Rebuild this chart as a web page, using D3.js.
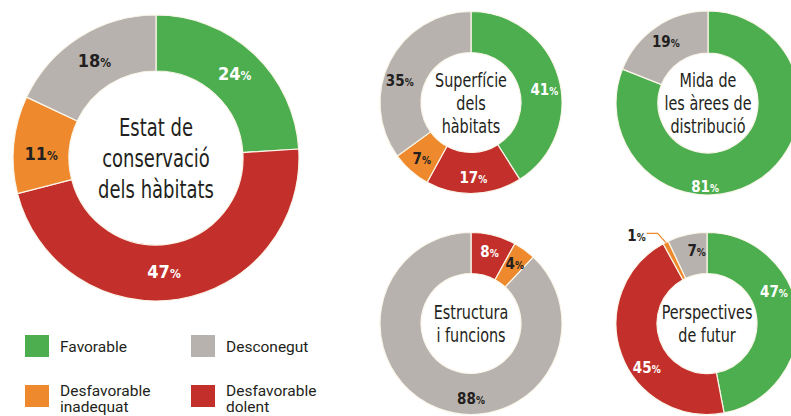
<!DOCTYPE html>
<html><head><meta charset="utf-8">
<script src="https://cdn.jsdelivr.net/npm/d3@7"></script>
<style>
html,body{margin:0;padding:0;background:#fff;}
svg{display:block;}
.ctr{font-family:"DejaVu Sans Condensed","Liberation Sans Narrow",sans-serif;fill:#231f20;}
.pct{font-family:"DejaVu Sans Condensed","Liberation Sans Narrow",sans-serif;font-weight:bold;}
.leg{font-family:"Roboto","DejaVu Sans",sans-serif;fill:#231f20;}
</style></head>
<body>
<script>
// ---- data ----
const categories = ["Favorable", "Desfavorable inadequat", "Desfavorable dolent", "Desconegut"];
const estatConservacio = [24, 11, 47, 18];
const superficieHabitats = [41, 7, 17, 35];
const midaAreesDistribucio = [81, 0, 0, 19];
const estructuraFuncions = [0, 4, 8, 88];
const perspectivesFutur = [47, 1, 45, 7];
const titles = {
  estat: ["Estat de", "conservació", "dels hàbitats"],
  superficie: ["Superfície", "dels", "hàbitats"],
  mida: ["Mida de", "les àrees de", "distribució"],
  estructura: ["Estructura", "i funcions"],
  perspectives: ["Perspectives", "de futur"]
};

// ---- styles / layout ----
const colors = ["#4dae50", "#ee8a2d", "#c3302b", "#b8b2ae"];
const ringOrder = [0, 2, 1, 3]; // clockwise from top

const W = 791, H = 416;
const svg = d3.select("body").append("svg").attr("width", W).attr("height", H);

const charts = [
  {key: "estat", values: estatConservacio, cx: 156, cy: 158, ro: 143, ri: 87, num: 18, pc: 12, title: 25, lh: 31, sx: 0.8, labelAngle: {2: 176, 1: 272}},
  {key: "superficie", values: superficieHabitats, cx: 471, cy: 102.5, ro: 91, ri: 50, num: 15, pc: 10, title: 19.5, lh: 23, sx: 0.82, labelAngle: {0: 80, 3: 287}},
  {key: "mida", values: midaAreesDistribucio, cx: 708, cy: 103, ro: 92, ri: 50, num: 15, pc: 10, title: 19.5, lh: 23, sx: 0.82, labelAngle: {0: 182}, labelR: {0: 83}},
  {key: "estructura", values: estructuraFuncions, cx: 471, cy: 323.5, ro: 91, ri: 50, num: 15, pc: 10, title: 19.5, lh: 23, sx: 0.82, labelAngle: {3: 180}},
  {key: "perspectives", values: perspectivesFutur, cx: 707, cy: 323.5, ro: 91, ri: 50, num: 15, pc: 10, title: 19.5, lh: 23, sx: 0.82, labelAngle: {0: 64, 2: 234, 3: 352}, leader: [1]}
];

const pie = d3.pie().sort(null).value(d => d.v);

charts.forEach(c => {
  const data = ringOrder.map(i => ({i, v: c.values[i]})).filter(d => d.v > 0);
  const arcs = pie(data);
  const arc = d3.arc().innerRadius(c.ri).outerRadius(c.ro);
  const g = svg.append("g").attr("transform", `translate(${c.cx},${c.cy})`);
  g.selectAll("path").data(arcs).join("path")
    .attr("d", arc)
    .attr("fill", d => colors[d.data.i])
    .attr("stroke", "#fbf6ea").attr("stroke-width", 1.2);

  const rMidDefault = (c.ri + c.ro) / 2 + (c.key === "estat" ? 0 : 4);
  arcs.forEach(d => {
    const isLeader = c.leader && c.leader.includes(d.data.i);
    const fill = (d.data.i === 0 || d.data.i === 2) ? "#fff" : "#231f20";
    let t;
    if (isLeader) {
      const a = (d.startAngle + d.endAngle) / 2;
      const ex = Math.sin(a) * c.ro, ey = -Math.cos(a) * c.ro;
      const kx = ex - 8, ky = ey - 9;
      g.append("polyline")
        .attr("points", `${ex},${ey} ${kx},${ky} ${kx - 11},${ky}`)
        .attr("fill", "none").attr("stroke", colors[d.data.i]).attr("stroke-width", 1.3);
      t = g.append("text").attr("class", "pct").attr("x", kx - 12).attr("y", ky)
        .attr("dy", "0.45em").attr("text-anchor", "end").attr("fill", "#231f20");
    } else {
      const deg = c.labelAngle && c.labelAngle[d.data.i] !== undefined ? c.labelAngle[d.data.i] : (d.startAngle + d.endAngle) / 2 * 180 / Math.PI;
      const r = c.labelR && c.labelR[d.data.i] !== undefined ? c.labelR[d.data.i] : rMidDefault;
      const a = deg * Math.PI / 180;
      t = g.append("text").attr("class", "pct").attr("x", Math.sin(a) * r).attr("y", -Math.cos(a) * r)
        .attr("dy", "0.36em").attr("text-anchor", "middle").attr("fill", fill);
    }
    t.append("tspan").attr("font-size", c.num).text(d.data.v);
    t.append("tspan").attr("font-size", c.pc).text("%");
  });

  const lines = titles[c.key];
  const tt = g.append("text").attr("class", "ctr").attr("text-anchor", "middle")
    .attr("font-size", c.title).attr("transform", `scale(${c.sx},1)`);
  lines.forEach((l, k) => {
    tt.append("tspan").attr("x", 0)
      .attr("y", (k - (lines.length - 1) / 2) * c.lh)
      .attr("dy", "0.36em").text(l);
  });
});

// ---- legend ----
const legendItems = [
  {i: 0, x: 25, y: 335, lines: ["Favorable"]},
  {i: 3, x: 191, y: 335, lines: ["Desconegut"]},
  {i: 1, x: 25, y: 385, lines: ["Desfavorable", "inadequat"]},
  {i: 2, x: 191, y: 385, lines: ["Desfavorable", "dolent"]}
];
legendItems.forEach(it => {
  svg.append("rect").attr("x", it.x).attr("y", it.y).attr("width", 24).attr("height", 22).attr("fill", colors[it.i]);
  const t = svg.append("text").attr("class", "leg").attr("font-size", 15.5);
  const y0 = it.lines.length > 1 ? it.y + 5 : it.y + 11;
  it.lines.forEach((l, k) => {
    t.append("tspan").attr("x", it.x + 35).attr("y", y0 + k * 16.5).attr("dy", "0.36em").text(l);
  });
});
</script>
</body></html>
